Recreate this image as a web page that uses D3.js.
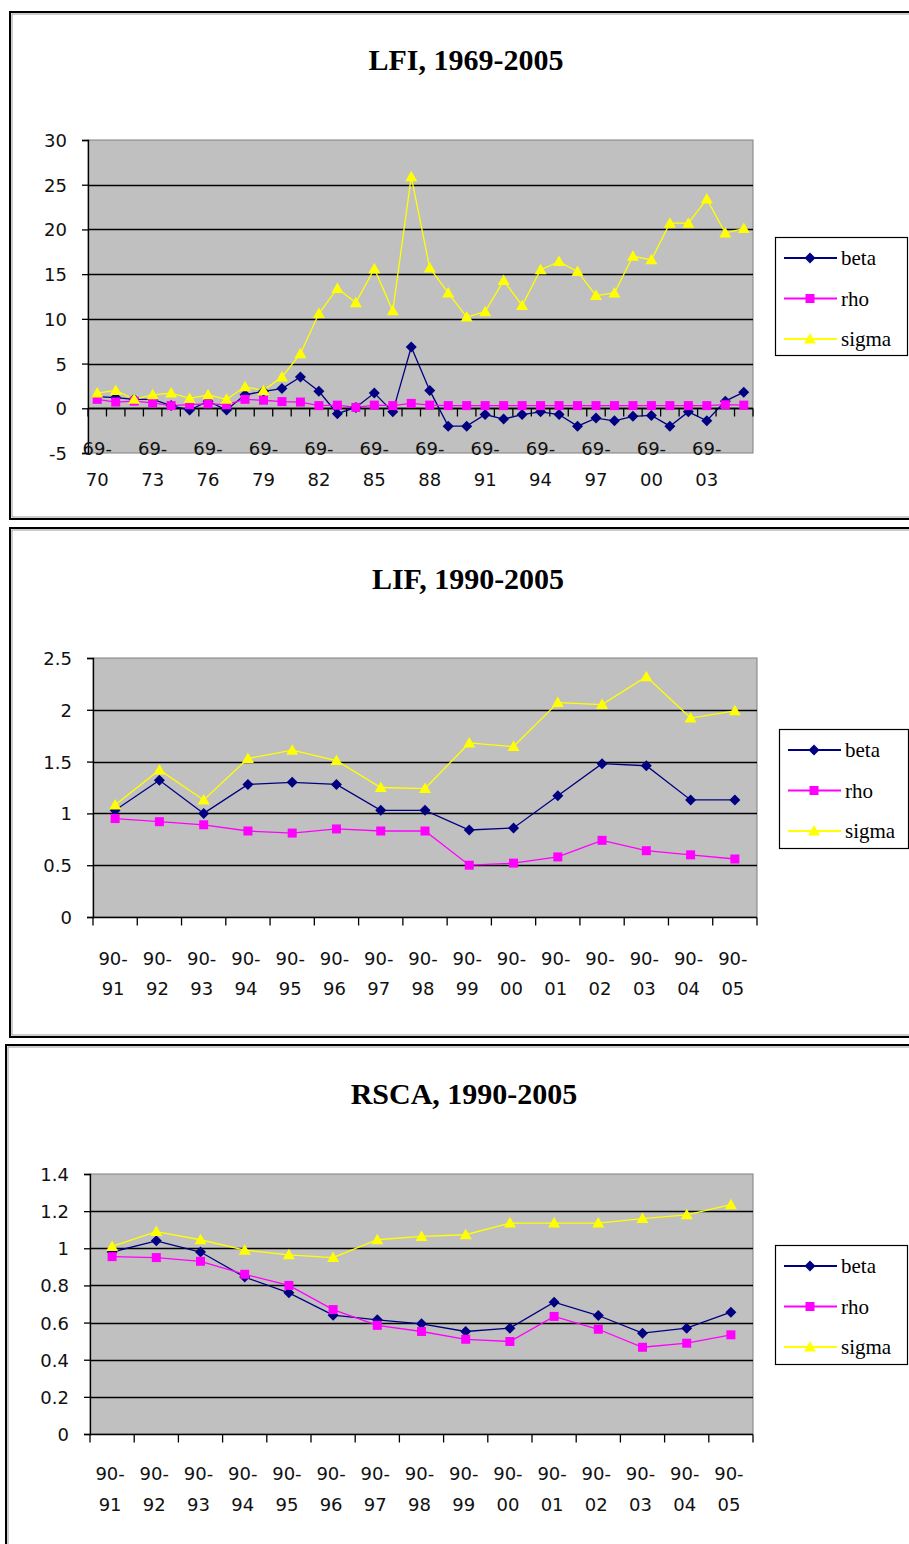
<!DOCTYPE html>
<html>
<head>
<meta charset="utf-8">
<script src="https://cdn.jsdelivr.net/npm/d3@7"></script>
<style>
  html, body { margin: 0; padding: 0; background: #fff; }
  svg { display: block; }
</style>
</head>
<body>
<svg id="chart" width="909" height="1544"></svg>
<script>
// ---------- DATA ----------
const lfiCategories = ["69-70","69-71","69-72","69-73","69-74","69-75","69-76","69-77","69-78","69-79",
  "69-80","69-81","69-82","69-83","69-84","69-85","69-86","69-87","69-88","69-89",
  "69-90","69-91","69-92","69-93","69-94","69-95","69-96","69-97","69-98","69-99",
  "69-00","69-01","69-02","69-03","69-04","69-05"];
const lfiBeta  = [1.3,1.2,1.0,1.0,0.3,-0.2,0.8,-0.2,1.5,1.9,2.2,3.5,1.9,-0.6,0.1,1.7,-0.4,6.85,2.0,-2.0,
  -2.0,-0.7,-1.2,-0.7,-0.4,-0.7,-2.0,-1.1,-1.4,-0.9,-0.8,-2.0,-0.4,-1.4,0.8,1.8];
const lfiRho   = [1.0,0.7,0.8,0.6,0.3,0.4,0.5,0.4,1.0,0.9,0.75,0.7,0.3,0.35,0.1,0.35,0.3,0.55,0.35,0.3,
  0.3,0.3,0.3,0.3,0.3,0.3,0.3,0.3,0.3,0.3,0.3,0.3,0.3,0.3,0.4,0.35];
const lfiSigma = [1.7,2.0,1.0,1.5,1.7,1.1,1.5,1.0,2.4,2.0,3.5,6.1,10.6,13.4,11.8,15.6,10.9,25.9,15.7,12.9,
  10.2,10.8,14.3,11.5,15.5,16.4,15.3,12.6,12.9,17.0,16.6,20.7,20.7,23.4,19.6,20.1];
const lfiYTicks = [-5,0,5,10,15,20,25,30];

const periodCategories = ["90-91","90-92","90-93","90-94","90-95","90-96","90-97","90-98",
  "90-99","90-00","90-01","90-02","90-03","90-04","90-05"];
const lifBeta  = [1.03,1.32,1.0,1.28,1.30,1.28,1.03,1.03,0.84,0.86,1.17,1.48,1.46,1.13,1.13];
const lifRho   = [0.95,0.92,0.89,0.83,0.81,0.85,0.83,0.83,0.50,0.52,0.58,0.74,0.64,0.60,0.56];
const lifSigma = [1.08,1.42,1.13,1.53,1.61,1.51,1.25,1.24,1.68,1.645,2.07,2.05,2.32,1.92,1.99];
const lifYTicks = [0,0.5,1,1.5,2,2.5];

const rscaBeta  = [0.98,1.04,0.98,0.845,0.76,0.64,0.615,0.593,0.552,0.57,0.71,0.638,0.543,0.57,0.656];
const rscaRho   = [0.955,0.95,0.93,0.86,0.80,0.67,0.585,0.552,0.51,0.498,0.633,0.564,0.467,0.489,0.534];
const rscaSigma = [1.01,1.09,1.046,0.99,0.965,0.95,1.046,1.064,1.073,1.136,1.136,1.136,1.16,1.18,1.235];
const rscaYTicks = [0,0.2,0.4,0.6,0.8,1,1.2,1.4];

const seriesNames = ["beta","rho","sigma"];
const titles = ["LFI, 1969-2005","LIF, 1990-2005","RSCA, 1990-2005"];

// ---------- STYLE ----------
const colors = { beta: "#000080", rho: "#FF00FF", sigma: "#FFFF00" };
const shapes = { beta: "diamond", rho: "square", sigma: "triangle" };
const tickFont = "'DejaVu Sans', Verdana, sans-serif";
const serifFont = "'Liberation Serif', 'Times New Roman', serif";
const tickSize = 18;

function markerPath(shape) {
  if (shape === "diamond") return "M0,-5.5L5.5,0L0,5.5L-5.5,0Z";
  if (shape === "square") return "M-4.5,-4.5H4.5V4.5H-4.5Z";
  return "M0,-6L6,4.5H-6Z";
}

const svg = d3.select("#chart");

function frame(x, y, w, h) {
  svg.append("rect").attr("x", x).attr("y", y).attr("width", w).attr("height", h)
    .attr("fill", "#fff").attr("stroke", "#000").attr("stroke-width", 2);
  svg.append("rect").attr("x", x + 2).attr("y", y + 2).attr("width", w - 4).attr("height", h - 4)
    .attr("fill", "none").attr("stroke", "#9a9a9a").attr("stroke-width", 1);
}

function panel(cfg) {
  frame(cfg.frame.x, cfg.frame.y, cfg.frame.w, cfg.frame.h);
  const g = svg.append("g");
  const p = cfg.plot;

  g.append("text").attr("x", cfg.titleX).attr("y", cfg.titleY)
    .attr("text-anchor", "middle").attr("font-family", serifFont)
    .attr("font-weight", "bold").attr("font-size", 30).attr("fill", "#000")
    .text(cfg.title);

  const x = d3.scaleBand().domain(cfg.categories).range([p.l, p.r]).padding(0);
  const y = d3.scaleLinear().domain(cfg.domain).range([p.b, p.t]);

  // plot background
  g.append("rect").attr("x", p.l).attr("y", p.t).attr("width", p.r - p.l).attr("height", p.b - p.t)
    .attr("fill", "#C0C0C0").attr("stroke", "#808080").attr("stroke-width", 1);

  // gridlines
  g.selectAll(".grid").data(cfg.yTicks.filter(v => v !== cfg.domain[0] && v !== cfg.domain[1]))
    .join("line")
    .attr("x1", p.l).attr("x2", p.r)
    .attr("y1", d => Math.round(y(d)) + 0.5).attr("y2", d => Math.round(y(d)) + 0.5)
    .attr("stroke", "#000").attr("stroke-width", 1.3);

  // y axis
  const fmt = d3.format("~g");
  const yAxis = d3.axisLeft(y).tickValues(cfg.yTicks).tickSize(6).tickPadding(15)
    .tickFormat(d => fmt(d).replace("\u2212", "-"));
  const ya = g.append("g").attr("transform", `translate(${p.l},0)`).call(yAxis);
  ya.select(".domain").attr("stroke", "#000").attr("stroke-width", 1.3);
  ya.selectAll(".tick line").attr("stroke", "#000").attr("stroke-width", 1.3);
  ya.selectAll("text").attr("font-family", tickFont).attr("font-size", tickSize).attr("fill", "#111")
    .attr("dy", "0.36em");

  // x axis at y = 0
  const zeroY = Math.round(y(0)) + 0.5;
  g.append("line").attr("x1", p.l).attr("x2", p.r).attr("y1", zeroY).attr("y2", zeroY)
    .attr("stroke", "#000").attr("stroke-width", 1.3);
  const bounds = cfg.categories.map(c => x(c)).concat([p.r]);
  g.selectAll(".xtick").data(bounds).join("line")
    .attr("x1", d => d).attr("x2", d => d)
    .attr("y1", zeroY).attr("y2", zeroY + 8)
    .attr("stroke", "#000").attr("stroke-width", 1.3);

  // x labels
  const labelled = cfg.categories.filter((c, i) => i % cfg.labelEvery === 0);
  const lab = g.selectAll(".xlab").data(labelled).join("text")
    .attr("text-anchor", "middle").attr("font-family", tickFont).attr("font-size", tickSize)
    .attr("fill", "#111");
  lab.append("tspan").attr("x", d => x(d) + x.bandwidth() / 2 + cfg.labelDx).attr("y", cfg.label1Y)
    .text(d => d.split("-")[0] + "-");
  lab.append("tspan").attr("x", d => x(d) + x.bandwidth() / 2 + cfg.labelDx).attr("y", cfg.label2Y)
    .text(d => d.split("-")[1]);

  // series
  const line = d3.line().x((d, i) => x(cfg.categories[i]) + x.bandwidth() / 2).y(d => y(d));
  seriesNames.forEach(name => {
    const vals = cfg.values[name];
    g.append("path").datum(vals).attr("d", line).attr("fill", "none")
      .attr("stroke", colors[name]).attr("stroke-width", 1.3);
  });
  seriesNames.forEach(name => {
    const vals = cfg.values[name];
    g.selectAll(".m-" + name).data(vals).join("path")
      .attr("transform", (d, i) => `translate(${x(cfg.categories[i]) + x.bandwidth() / 2},${y(d)})`)
      .attr("d", markerPath(shapes[name]))
      .attr("fill", colors[name]);
  });

  // legend
  const L = cfg.legend;
  g.append("rect").attr("x", L.x + 0.5).attr("y", L.y + 0.5).attr("width", L.w).attr("height", L.h)
    .attr("fill", "#fff").attr("stroke", "#000").attr("stroke-width", 1.2);
  seriesNames.forEach((name, i) => {
    const ly = L.y + 21 + i * 40.5;
    g.append("line").attr("x1", L.x + 9).attr("x2", L.x + 62).attr("y1", ly).attr("y2", ly)
      .attr("stroke", colors[name]).attr("stroke-width", 2);
    g.append("path").attr("transform", `translate(${L.x + 35},${ly})`)
      .attr("d", markerPath(shapes[name])).attr("fill", colors[name]);
    g.append("text").attr("x", L.x + 66).attr("y", ly + 7)
      .attr("font-family", serifFont).attr("font-size", 21).attr("fill", "#000").text(name);
  });
}

panel({
  title: titles[0], titleX: 466, titleY: 70,
  frame: { x: 10, y: 12, w: 910, h: 507 },
  plot: { l: 88, r: 753, t: 140, b: 453 },
  domain: [-5, 30], yTicks: lfiYTicks,
  categories: lfiCategories, labelEvery: 3, labelDx: 0,
  label1Y: 455, label2Y: 486,
  values: { beta: lfiBeta, rho: lfiRho, sigma: lfiSigma },
  legend: { x: 775, y: 237, w: 132, h: 118 }
});

panel({
  title: titles[1], titleX: 468, titleY: 589,
  frame: { x: 10, y: 528, w: 910, h: 509 },
  plot: { l: 93, r: 757, t: 658, b: 917 },
  domain: [0, 2.5], yTicks: lifYTicks,
  categories: periodCategories, labelEvery: 1, labelDx: -2,
  label1Y: 965, label2Y: 995,
  values: { beta: lifBeta, rho: lifRho, sigma: lifSigma },
  legend: { x: 779, y: 729, w: 129, h: 119 }
});

panel({
  title: titles[2], titleX: 464, titleY: 1104,
  frame: { x: 6, y: 1045, w: 914, h: 510 },
  plot: { l: 90, r: 753, t: 1174, b: 1434 },
  domain: [0, 1.4], yTicks: rscaYTicks,
  categories: periodCategories, labelEvery: 1, labelDx: -2,
  label1Y: 1480, label2Y: 1511,
  values: { beta: rscaBeta, rho: rscaRho, sigma: rscaSigma },
  legend: { x: 775, y: 1245, w: 132, h: 119 }
});
</script>
</body>
</html>
